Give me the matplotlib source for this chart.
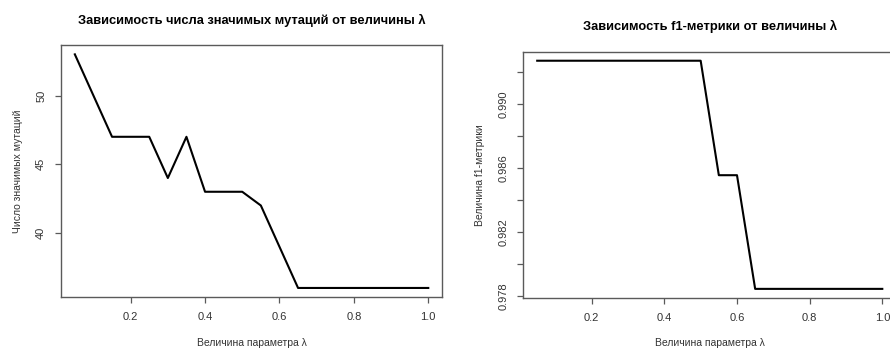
import numpy as np
import matplotlib
matplotlib.use("Agg")
from matplotlib import pyplot as plt
from matplotlib.ticker import FixedLocator, FuncFormatter

plt.rcParams['font.family'] = ['Liberation Sans', 'DejaVu Sans']

lambdas = [0.05, 0.10, 0.15, 0.20, 0.25, 0.30, 0.35, 0.40, 0.45, 0.50,
           0.55, 0.60, 0.65, 0.70, 0.75, 0.80, 0.85, 0.90, 0.95, 1.00]
n_mutations = [53, 50, 47, 47, 47, 44, 47, 43, 43, 43,
               42, 39, 36, 36, 36, 36, 36, 36, 36, 36]
f1_scores = [0.99269] * 10 + [0.98554, 0.98554] + [0.97844] * 8

x_ticks = [0.2, 0.4, 0.6, 0.8, 1.0]
mut_ticks = [40, 45, 50]
f1_ticks = [0.978, 0.980, 0.982, 0.984, 0.986, 0.988, 0.990, 0.992]
f1_labeled = [0.978, 0.982, 0.986, 0.990]

W, H = 890, 349
TXT = '#333333'
FRAME = '#5a5a5a'
TICK_FS = 8.0
LABEL_FS = 7.5
TITLE_FS = 9.3


def r_limits(vals):
    lo, hi = min(vals), max(vals)
    pad = (hi - lo) * 0.04
    return lo - pad, hi + pad


def box(l, t, r, b):
    return [l / W, 1 - b / H, (r - l) / W, (b - t) / H]


def style(ax):
    for s in ax.spines.values():
        s.set_color(FRAME)
        s.set_linewidth(1.0)
    ax.tick_params(direction='out', length=4.5, width=0.9, color=FRAME,
                   labelsize=TICK_FS, labelcolor=TXT, pad=6)
    ax.set_xlim(*r_limits(lambdas))
    ax.set_xticks(x_ticks)
    ax.xaxis.set_major_formatter(FuncFormatter(lambda v, p: f'{v:.1f}'))
    for lab in ax.get_yticklabels():
        lab.set_rotation(90)
        lab.set_va('center')


fig = plt.figure(figsize=(W / 100, H / 100), dpi=100)

# left panel: number of significant mutations
ax1 = fig.add_axes(box(60.7, 45, 442.4, 297.3))
ax1.plot(lambdas, n_mutations, color='black', lw=1.5)
ax1.set_ylim(*r_limits(n_mutations))
ax1.set_yticks(mut_ticks)
style(ax1)

fig.text(251.5 / W, 1 - 20 / H, 'Зависимость числа значимых мутаций от величины λ',
         ha='center', va='center', fontsize=TITLE_FS, fontweight='bold')
fig.text(251.5 / W, 1 - 343 / H, 'Величина параметра λ',
         ha='center', va='center', fontsize=LABEL_FS, color=TXT)
fig.text(18 / W, 1 - 171 / H, 'Число значимых мутаций', rotation=90,
         ha='center', va='center', fontsize=LABEL_FS, color=TXT)

# right panel: f1 metric
ax2 = fig.add_axes(box(523.4, 51.6, 896.1, 298))
ax2.plot(lambdas, f1_scores, color='black', lw=1.5)
ax2.set_ylim(*r_limits(f1_scores))
ax2.yaxis.set_major_locator(FixedLocator(f1_ticks))
ax2.yaxis.set_major_formatter(FuncFormatter(
    lambda v, p: f'{v:.3f}' if any(abs(v - t) < 1e-9 for t in f1_labeled) else ''))
style(ax2)

fig.text(710 / W, 1 - 26.7 / H, 'Зависимость f1-метрики от величины λ',
         ha='center', va='center', fontsize=TITLE_FS, fontweight='bold')
fig.text(710 / W, 1 - 343 / H, 'Величина параметра λ',
         ha='center', va='center', fontsize=LABEL_FS, color=TXT)
fig.text(480 / W, 1 - 175 / H, 'Величина f1-метрики', rotation=90,
         ha='center', va='center', fontsize=LABEL_FS, color=TXT)

fig.savefig('out.png', dpi=100)
